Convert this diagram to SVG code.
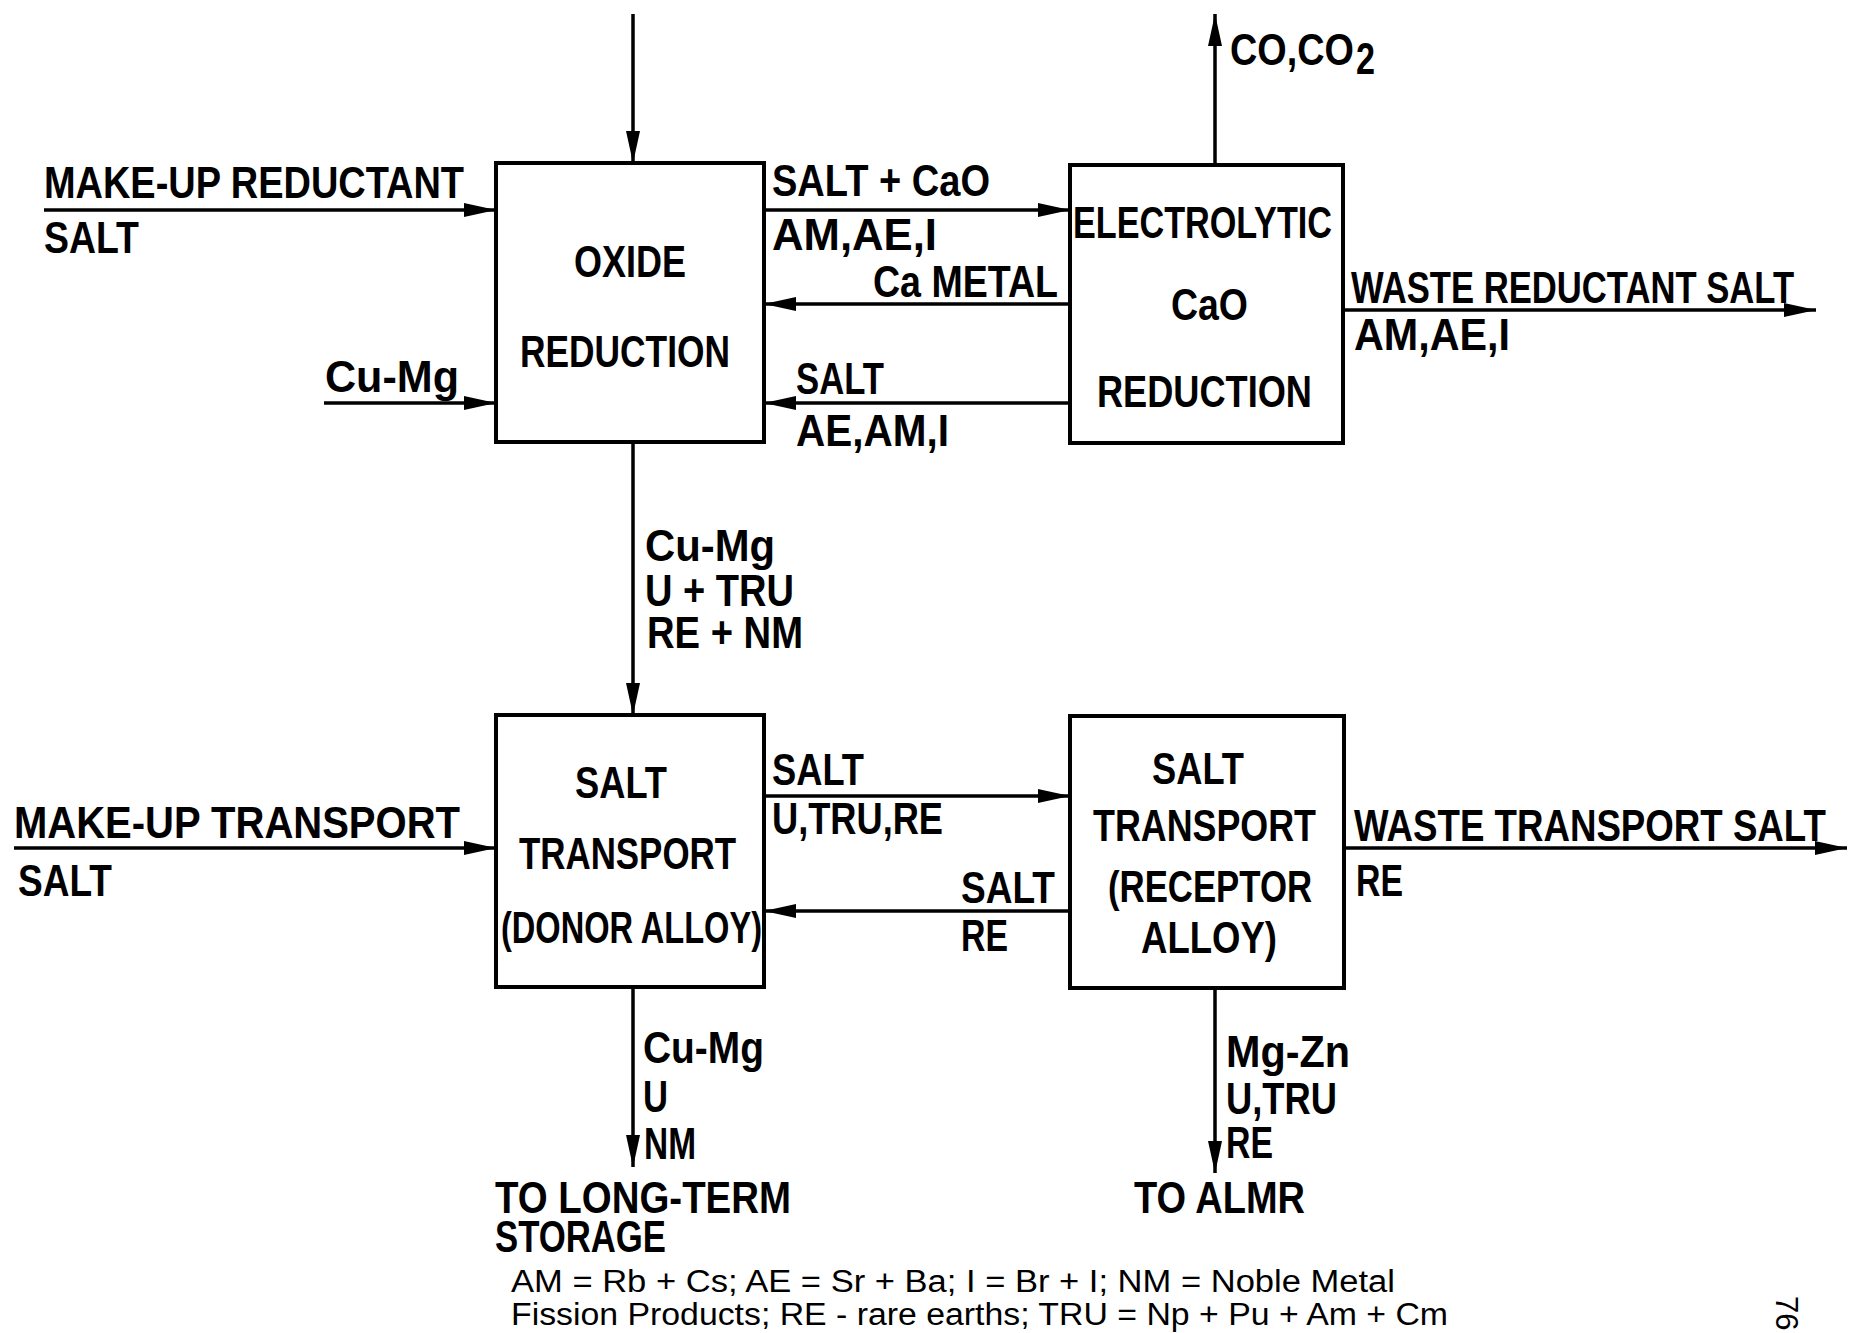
<svg xmlns="http://www.w3.org/2000/svg" width="1849" height="1333" viewBox="0 0 1849 1333">
<style>
.box{fill:#fff;stroke:#000;stroke-width:4}
.ln{stroke:#000;stroke-width:3.5;fill:none}
.t{font-family:"Liberation Sans",Arial,sans-serif;font-weight:bold;font-size:44px;fill:#000}
.fn{font-family:"Liberation Sans",Arial,sans-serif;font-weight:normal;font-size:31px;fill:#000}
</style>
<defs>
<marker id="arr" viewBox="0 0 32 14" refX="32" refY="7" markerWidth="32" markerHeight="14" markerUnits="userSpaceOnUse" orient="auto">
<path d="M0,0 L32,7 L0,14 z" fill="#000"/>
</marker>
</defs>
<rect width="1849" height="1333" fill="#fff"/>
<g id="connectors">
<line class="ln" x1="633" y1="14" x2="633" y2="163" marker-end="url(#arr)"/>
<line class="ln" x1="44" y1="210" x2="496" y2="210" marker-end="url(#arr)"/>
<line class="ln" x1="324" y1="403" x2="496" y2="403" marker-end="url(#arr)"/>
<line class="ln" x1="764" y1="210" x2="1070" y2="210" marker-end="url(#arr)"/>
<line class="ln" x1="1070" y1="304" x2="764" y2="304" marker-end="url(#arr)"/>
<line class="ln" x1="1070" y1="403" x2="764" y2="403" marker-end="url(#arr)"/>
<line class="ln" x1="1215" y1="165" x2="1215" y2="14" marker-end="url(#arr)"/>
<line class="ln" x1="1343" y1="310" x2="1816" y2="310" marker-end="url(#arr)"/>
<line class="ln" x1="633" y1="442" x2="633" y2="715" marker-end="url(#arr)"/>
<line class="ln" x1="14" y1="848" x2="496" y2="848" marker-end="url(#arr)"/>
<line class="ln" x1="764" y1="796" x2="1070" y2="796" marker-end="url(#arr)"/>
<line class="ln" x1="1070" y1="911" x2="764" y2="911" marker-end="url(#arr)"/>
<line class="ln" x1="1344" y1="848" x2="1847" y2="848" marker-end="url(#arr)"/>
<line class="ln" x1="633" y1="987" x2="633" y2="1167" marker-end="url(#arr)"/>
<line class="ln" x1="1215" y1="988" x2="1215" y2="1173" marker-end="url(#arr)"/>
</g>
<g id="oxide-reduction">
<rect class="box" x="496" y="163" width="268" height="279"/>
<text class="t" x="574" y="277" textLength="112" lengthAdjust="spacingAndGlyphs">OXIDE</text>
<text class="t" x="520" y="367" textLength="210" lengthAdjust="spacingAndGlyphs">REDUCTION</text>
</g>
<g id="electrolytic-cao-reduction">
<rect class="box" x="1070" y="165" width="273" height="278"/>
<text class="t" x="1073" y="238" textLength="259" lengthAdjust="spacingAndGlyphs">ELECTROLYTIC</text>
<text class="t" x="1171" y="320" textLength="77" lengthAdjust="spacingAndGlyphs">CaO</text>
<text class="t" x="1097" y="407" textLength="215" lengthAdjust="spacingAndGlyphs">REDUCTION</text>
</g>
<g id="salt-transport-donor">
<rect class="box" x="496" y="715" width="268" height="272"/>
<text class="t" x="575" y="798" textLength="92" lengthAdjust="spacingAndGlyphs">SALT</text>
<text class="t" x="519" y="869" textLength="217" lengthAdjust="spacingAndGlyphs">TRANSPORT</text>
<text class="t" x="501" y="943" textLength="261" lengthAdjust="spacingAndGlyphs">(DONOR ALLOY)</text>
</g>
<g id="salt-transport-receptor">
<rect class="box" x="1070" y="716" width="274" height="272"/>
<text class="t" x="1152" y="784" textLength="92" lengthAdjust="spacingAndGlyphs">SALT</text>
<text class="t" x="1093" y="841" textLength="223" lengthAdjust="spacingAndGlyphs">TRANSPORT</text>
<text class="t" x="1108" y="902" textLength="204" lengthAdjust="spacingAndGlyphs">(RECEPTOR</text>
<text class="t" x="1141" y="953" textLength="136" lengthAdjust="spacingAndGlyphs">ALLOY)</text>
</g>
<g id="labels">
<text class="t" x="44" y="198" textLength="420" lengthAdjust="spacingAndGlyphs">MAKE-UP REDUCTANT</text>
<text class="t" x="44" y="253" textLength="95" lengthAdjust="spacingAndGlyphs">SALT</text>
<text class="t" x="325" y="392" textLength="134" lengthAdjust="spacingAndGlyphs">Cu-Mg</text>
<text class="t" x="772" y="196" textLength="218" lengthAdjust="spacingAndGlyphs">SALT + CaO</text>
<text class="t" x="772" y="250" textLength="165" lengthAdjust="spacingAndGlyphs">AM,AE,I</text>
<text class="t" x="873" y="297" textLength="185" lengthAdjust="spacingAndGlyphs">Ca METAL</text>
<text class="t" x="796" y="394" textLength="88" lengthAdjust="spacingAndGlyphs">SALT</text>
<text class="t" x="796" y="446" textLength="153" lengthAdjust="spacingAndGlyphs">AE,AM,I</text>
<text class="t" transform="translate(1230,65) scale(0.86,1)" x="0" y="0" textLength="144" lengthAdjust="spacingAndGlyphs">CO,CO</text>
<text class="t" x="1356" y="74" font-size="32" textLength="19" lengthAdjust="spacingAndGlyphs">2</text>
<text class="t" transform="translate(1351,303) scale(0.78,1)" x="0" y="0" textLength="568" lengthAdjust="spacingAndGlyphs">WASTE REDUCTANT SALT</text>
<text class="t" x="1354" y="350" textLength="156" lengthAdjust="spacingAndGlyphs">AM,AE,I</text>
<text class="t" x="645" y="561" textLength="130" lengthAdjust="spacingAndGlyphs">Cu-Mg</text>
<text class="t" x="645" y="606" textLength="149" lengthAdjust="spacingAndGlyphs">U + TRU</text>
<text class="t" x="647" y="648" textLength="156" lengthAdjust="spacingAndGlyphs">RE + NM</text>
<text class="t" x="14" y="838" textLength="446" lengthAdjust="spacingAndGlyphs">MAKE-UP TRANSPORT</text>
<text class="t" x="18" y="896" textLength="94" lengthAdjust="spacingAndGlyphs">SALT</text>
<text class="t" x="772" y="785" textLength="92" lengthAdjust="spacingAndGlyphs">SALT</text>
<text class="t" x="772" y="834" textLength="171" lengthAdjust="spacingAndGlyphs">U,TRU,RE</text>
<text class="t" x="961" y="903" textLength="94" lengthAdjust="spacingAndGlyphs">SALT</text>
<text class="t" x="961" y="951" textLength="47" lengthAdjust="spacingAndGlyphs">RE</text>
<text class="t" transform="translate(1354,841) scale(0.825,1)" x="0" y="0" textLength="572" lengthAdjust="spacingAndGlyphs">WASTE TRANSPORT SALT</text>
<text class="t" x="1356" y="896" textLength="47" lengthAdjust="spacingAndGlyphs">RE</text>
<text class="t" x="643" y="1063" textLength="121" lengthAdjust="spacingAndGlyphs">Cu-Mg</text>
<text class="t" x="643" y="1112" textLength="25" lengthAdjust="spacingAndGlyphs">U</text>
<text class="t" x="644" y="1159" textLength="52" lengthAdjust="spacingAndGlyphs">NM</text>
<text class="t" x="1226" y="1067" textLength="124" lengthAdjust="spacingAndGlyphs">Mg-Zn</text>
<text class="t" x="1226" y="1114" textLength="111" lengthAdjust="spacingAndGlyphs">U,TRU</text>
<text class="t" x="1226" y="1158" textLength="47" lengthAdjust="spacingAndGlyphs">RE</text>
<text class="t" x="495" y="1213" textLength="296" lengthAdjust="spacingAndGlyphs">TO LONG-TERM</text>
<text class="t" x="495" y="1252" textLength="171" lengthAdjust="spacingAndGlyphs">STORAGE</text>
<text class="t" x="1134" y="1213" textLength="171" lengthAdjust="spacingAndGlyphs">TO ALMR</text>
<text class="fn" x="511" y="1292" textLength="884" lengthAdjust="spacingAndGlyphs">AM = Rb + Cs; AE = Sr + Ba; I = Br + I; NM = Noble Metal</text>
<text class="fn" x="511" y="1325" textLength="937" lengthAdjust="spacingAndGlyphs">Fission Products; RE - rare earths; TRU = Np + Pu + Am + Cm</text>
<text class="fn" transform="translate(1776,1296) rotate(90)">76</text>
</g>
</svg>
